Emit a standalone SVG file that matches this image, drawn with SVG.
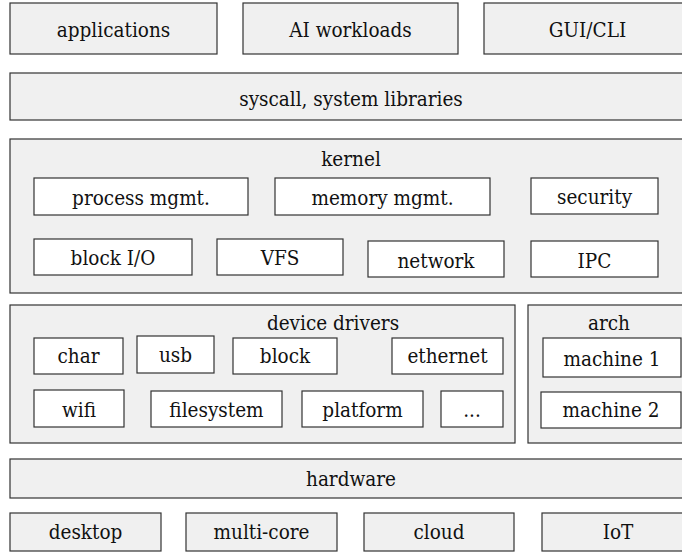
<svg xmlns="http://www.w3.org/2000/svg" width="682" height="552" viewBox="0 0 682 552">
<style>
.o{fill:#f0f0f0;stroke:#333;stroke-width:1.2}
.i{fill:#fff;stroke:#333;stroke-width:1.2}
.t{font-family:"DejaVu Serif Condensed","DejaVu Serif","Liberation Serif",serif;font-stretch:condensed;font-size:20.5px;fill:#111;text-anchor:middle}
</style>
<rect width="682" height="552" fill="#fff"/>
<g id="applications"><rect class="o" x="10" y="3" width="207" height="51"/><text class="t" x="113.5" y="37">applications</text></g>
<g id="ai-workloads"><rect class="o" x="243" y="3" width="215" height="51"/><text class="t" x="350.5" y="37">AI workloads</text></g>
<g id="gui-cli"><rect class="o" x="484" y="3" width="207" height="51"/><text class="t" x="587.5" y="37">GUI/CLI</text></g>
<g id="syscall"><rect class="o" x="10" y="73" width="682" height="47"/><text class="t" x="351" y="106">syscall, system libraries</text></g>
<g id="kernel"><rect class="o" x="10" y="139" width="682" height="154"/><text class="t" x="351" y="166">kernel</text>
<g id="process-mgmt"><rect class="i" x="34" y="178" width="214" height="37"/><text class="t" x="141" y="205">process mgmt.</text></g>
<g id="memory-mgmt"><rect class="i" x="275" y="178" width="215" height="37"/><text class="t" x="382.5" y="205">memory mgmt.</text></g>
<g id="security"><rect class="i" x="531" y="178" width="127" height="36"/><text class="t" x="594.5" y="204">security</text></g>
<g id="block-io"><rect class="i" x="34" y="239" width="158" height="36"/><text class="t" x="113" y="265">block I/O</text></g>
<g id="vfs"><rect class="i" x="217" y="239" width="126" height="36"/><text class="t" x="280" y="265">VFS</text></g>
<g id="network"><rect class="i" x="368" y="241" width="136" height="36"/><text class="t" x="436" y="267.5">network</text></g>
<g id="ipc"><rect class="i" x="531" y="241" width="127" height="36"/><text class="t" x="594.5" y="267.5">IPC</text></g>
</g>
<g id="device-drivers"><rect class="o" x="10" y="305" width="505" height="138"/><text class="t" x="333" y="330">device drivers</text>
<g id="char"><rect class="i" x="34" y="338" width="89" height="36"/><text class="t" x="78.5" y="363">char</text></g>
<g id="usb"><rect class="i" x="137" y="336" width="77" height="37"/><text class="t" x="175.5" y="361.5">usb</text></g>
<g id="block"><rect class="i" x="233" y="338" width="104" height="36"/><text class="t" x="285" y="363">block</text></g>
<g id="ethernet"><rect class="i" x="392" y="338" width="111" height="36"/><text class="t" x="447.5" y="363">ethernet</text></g>
<g id="wifi"><rect class="i" x="34" y="390" width="90" height="37"/><text class="t" x="79" y="416.5">wifi</text></g>
<g id="filesystem"><rect class="i" x="151" y="391" width="131" height="36"/><text class="t" x="216.5" y="416.5">filesystem</text></g>
<g id="platform"><rect class="i" x="302" y="391" width="121" height="36"/><text class="t" x="362.5" y="416.5">platform</text></g>
<g id="more"><rect class="i" x="441" y="391" width="62" height="36"/><text class="t" x="472" y="416.5">...</text></g>
</g>
<g id="arch"><rect class="o" x="528" y="305" width="162" height="138"/><text class="t" x="609" y="330">arch</text>
<g id="machine-1"><rect class="i" x="543" y="338" width="138" height="39"/><text class="t" x="612" y="366">machine 1</text></g>
<g id="machine-2"><rect class="i" x="541" y="392" width="140" height="36"/><text class="t" x="611" y="416.5">machine 2</text></g>
</g>
<g id="hardware"><rect class="o" x="10" y="459" width="682" height="39"/><text class="t" x="351" y="485.5">hardware</text></g>
<g id="desktop"><rect class="o" x="10" y="513" width="151" height="38"/><text class="t" x="85.5" y="539">desktop</text></g>
<g id="multi-core"><rect class="o" x="186" y="513" width="151" height="38"/><text class="t" x="261.5" y="539">multi-core</text></g>
<g id="cloud"><rect class="o" x="364" y="513" width="150" height="38"/><text class="t" x="439" y="539">cloud</text></g>
<g id="iot"><rect class="o" x="542" y="513" width="151" height="38"/><text class="t" x="618" y="539">IoT</text></g>
</svg>
